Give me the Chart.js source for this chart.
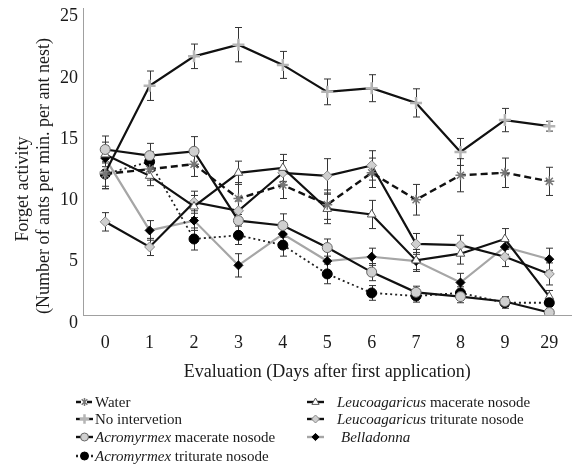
<!DOCTYPE html>
<html>
<head>
<meta charset="utf-8">
<script src="https://cdn.jsdelivr.net/npm/chart.js@4.4.0/dist/chart.umd.min.js"></script>
<style>
  html, body { margin: 0; padding: 0; background: #fff; }
  canvas { display: block; }
</style>
</head>
<body>
<canvas id="chart" width="580" height="464"></canvas>
<script>
// evaluation days
const days = ['0', '1', '2', '3', '4', '5', '6', '7', '8', '9', '29']
const yTicks = [0, 5, 10, 15, 20, 25]
const yTitle = ['Forget activity', '(Number of ants per min. per ant nest)']

// forage activity means and error (ants per min. per ant nest)
const water = [11.5, 11.9, 12.3, 9.5, 10.6, 9.0, 11.6, 9.4, 11.4, 11.6, 10.9]
const waterErr = [1.2, 0.9, 1.0, 1.3, 1.1, 1.2, 1.2, 1.25, 1.35, 1.2, 1.15]

const noIntervention = [11.6, 18.7, 21.1, 22.05, 20.4, 18.2, 18.5, 17.3, 13.3, 15.9, 15.4]
const noInterventionErr = [1.3, 1.2, 1.0, 1.4, 1.1, 1.05, 1.1, 1.15, 1.1, 0.95, 0.4]

const acroMacerate = [13.5, 13.0, 13.35, 7.7, 7.3, 5.5, 3.5, 1.85, 1.5, 1.1, 0.2]
const acroMacerateErr = [1.1, 1.0, 1.2, 0.9, 0.95, 0.7, 0.7, 0.5, 0.5, 0.4, 0.1]

const acroTriturate = [11.5, 12.5, 6.2, 6.5, 5.7, 3.35, 1.8, 1.55, 1.8, 1.0, 1.0]
const acroTriturateErr = [1.0, 0.8, 0.9, 0.75, 0.9, 0.8, 0.6, 0.5, 0.5, 0.45, 0.3]

const leucoMacerate = [13.1, 11.35, 8.85, 11.6, 12.0, 8.65, 8.2, 4.45, 5.0, 6.2, 1.5]
const leucoMacerateErr = [1.0, 0.8, 0.9, 0.95, 1.1, 1.2, 1.15, 0.9, 0.85, 0.85, 0.5]

const leucoTriturate = [7.6, 5.55, 9.2, 8.5, 11.6, 11.35, 12.2, 5.8, 5.7, 4.75, 3.35]
const leucoTriturateErr = [0.75, 0.7, 0.9, 0.8, 1.0, 1.4, 1.2, 0.85, 0.8, 0.8, 0.9]

const belladonna = [12.8, 6.9, 7.7, 4.05, 6.6, 4.4, 4.75, 4.4, 2.65, 5.55, 4.55]
const belladonnaErr = [1.0, 0.8, 0.8, 0.95, 0.8, 0.8, 0.7, 0.7, 0.75, 0.6, 0.9]

const SERIF = '"Liberation Serif", "DejaVu Serif", serif'

const series = [
  { key: 'water', data: water, err: waterErr, line: '#111', width: 2.4, dash: [7, 4],
    point: 'star', radius: 5, fill: '#888', stroke: '#777', pw: 1.5 },
  { key: 'noint', data: noIntervention, err: noInterventionErr, line: '#111', width: 2.2, dash: [],
    point: 'cross', radius: 6, fill: '#bbb', stroke: '#b5b5b5', pw: 2.5 },
  { key: 'acroMac', data: acroMacerate, err: acroMacerateErr, line: '#111', width: 2.2, dash: [],
    point: 'circle', radius: 5, fill: '#d0d0d0', stroke: '#666', pw: 1 },
  { key: 'acroTri', data: acroTriturate, err: acroTriturateErr, line: '#222', width: 1.8, dash: [2, 3],
    point: 'circle', radius: 5, fill: '#000', stroke: '#000', pw: 1 },
  { key: 'leucoMac', data: leucoMacerate, err: leucoMacerateErr, line: '#111', width: 2.2, dash: [],
    point: 'triangle', radius: 5, fill: '#fff', stroke: '#555', pw: 1 },
  { key: 'leucoTri', data: leucoTriturate, err: leucoTriturateErr, line: '#111', width: 2.2, dash: [],
    point: 'rectRot', radius: 5, fill: '#cfcfcf', stroke: '#888', pw: 1 },
  { key: 'bella', data: belladonna, err: belladonnaErr, line: '#a6a6a6', width: 2.2, dash: [],
    point: 'rectRot', radius: 4.5, fill: '#000', stroke: '#000', pw: 1 },
]

// legend entries: text parts [text, italic]
const legendItems = [
  { key: 'water', x: 76, y: 402, parts: [['Water', false]] },
  { key: 'noint', x: 76, y: 419, parts: [['No intervetion', false]] },
  { key: 'acroMac', x: 76, y: 437, parts: [['Acromyrmex', true], [' macerate nosode', false]] },
  { key: 'acroTri', x: 76, y: 456, parts: [['Acromyrmex', true], [' triturate nosode', false]] },
  { key: 'leucoMac', x: 307, y: 402, parts: [['Leucoagaricus', true], [' macerate nosode', false]] },
  { key: 'leucoTri', x: 307, y: 419, parts: [['Leucoagaricus', true], [' triturate nosode', false]] },
  { key: 'bella', x: 307, y: 437, parts: [['Belladonna', true]] },
]

function drawMarker(ctx, s, x, y, r) {
  ctx.save()
  ctx.setLineDash([])
  ctx.fillStyle = s.fill
  ctx.strokeStyle = s.stroke
  ctx.lineWidth = s.pw
  ctx.beginPath()
  if (s.point === 'circle') {
    ctx.arc(x, y, r, 0, Math.PI * 2)
    ctx.fill(); ctx.stroke()
  } else if (s.point === 'rectRot') {
    ctx.moveTo(x, y - r); ctx.lineTo(x + r, y); ctx.lineTo(x, y + r); ctx.lineTo(x - r, y); ctx.closePath()
    ctx.fill(); ctx.stroke()
  } else if (s.point === 'triangle') {
    ctx.moveTo(x, y - r); ctx.lineTo(x + r * 0.9, y + r * 0.6); ctx.lineTo(x - r * 0.9, y + r * 0.6); ctx.closePath()
    ctx.fill(); ctx.stroke()
  } else if (s.point === 'cross') {
    ctx.moveTo(x - r, y); ctx.lineTo(x + r, y); ctx.moveTo(x, y - r); ctx.lineTo(x, y + r)
    ctx.stroke()
  } else {
    const d = r * 0.7
    ctx.moveTo(x - d, y - d); ctx.lineTo(x + d, y + d); ctx.moveTo(x + d, y - d); ctx.lineTo(x - d, y + d)
    ctx.moveTo(x, y - r); ctx.lineTo(x, y + r)
    ctx.stroke()
  }
  ctx.restore()
}

const errorBars = {
  id: 'errorBars',
  beforeDatasetsDraw(chart) {
    const { ctx, scales: { x, y } } = chart
    ctx.save()
    ctx.strokeStyle = '#333'
    ctx.lineWidth = 1
    chart.data.datasets.forEach((ds) => {
      ds.errors.forEach((e, j) => {
        const px = Math.round(x.getPixelForValue(j)) + 0.5
        const top = y.getPixelForValue(ds.data[j] + e)
        const bot = y.getPixelForValue(Math.max(0, ds.data[j] - e))
        ctx.beginPath()
        ctx.moveTo(px, top); ctx.lineTo(px, bot)
        ctx.moveTo(px - 3.5, top); ctx.lineTo(px + 3.5, top)
        ctx.moveTo(px - 3.5, bot); ctx.lineTo(px + 3.5, bot)
        ctx.stroke()
      })
    })
    ctx.restore()
  },
}

// y title lines sit a little below the plot centre in the reference
const yTitlePlugin = {
  id: 'yTitle',
  afterDraw(chart) {
    const { ctx } = chart
    ctx.save()
    ctx.fillStyle = '#1a1a1a'
    ctx.font = `18px ${SERIF}`
    ctx.textAlign = 'center'
    ctx.textBaseline = 'middle'
    const spots = [[23, 189], [44, 176]]
    yTitle.forEach((text, i) => {
      ctx.save()
      ctx.translate(spots[i][0], spots[i][1])
      ctx.rotate(-Math.PI / 2)
      ctx.fillText(text, 0, 0)
      ctx.restore()
    })
    ctx.restore()
  },
}

const legendPlugin = {
  id: 'customLegend',
  afterDraw(chart) {
    const { ctx } = chart
    ctx.save()
    legendItems.forEach((item) => {
      const s = series.find((d) => d.key === item.key)
      ctx.strokeStyle = s.line
      ctx.lineWidth = 2.4
      ctx.setLineDash(s.dash.length ? (s.key === 'water' ? [5, 6] : [2, 3]) : [])
      ctx.beginPath()
      ctx.moveTo(item.x, item.y); ctx.lineTo(item.x + 17, item.y)
      ctx.stroke()
      drawMarker(ctx, s, item.x + 8.5, item.y, s.radius * 0.8)

      let tx = item.key.startsWith('leuco') ? item.x + 30 : item.x + (item.key === 'bella' ? 34 : 19)
      ctx.fillStyle = '#1a1a1a'
      ctx.textBaseline = 'middle'
      ctx.textAlign = 'left'
      item.parts.forEach(([text, italic]) => {
        ctx.font = `${italic ? 'italic ' : ''}15px ${SERIF}`
        ctx.fillText(text, tx, item.y + 1)
        tx += ctx.measureText(text).width
      })
    })
    ctx.restore()
  },
}

new Chart(document.getElementById('chart'), {
  type: 'line',
  data: {
    labels: days,
    datasets: series.map((s) => ({
      label: s.key,
      data: s.data,
      errors: s.err,
      borderColor: s.line,
      borderWidth: s.width,
      borderDash: s.dash,
      tension: 0,
      fill: false,
      pointStyle: s.point,
      pointRadius: s.radius,
      pointBackgroundColor: s.fill,
      pointBorderColor: s.stroke,
      pointBorderWidth: s.pw,
    })),
  },
  options: {
    responsive: false,
    animation: false,
    events: [],
    layout: { padding: { top: 7, right: 2, bottom: 81, left: 0 } },
    plugins: { legend: { display: false }, tooltip: { enabled: false } },
    scales: {
      x: {
        offset: true,
        afterFit: (scale) => { scale.height = 68 },
        grid: { display: false, drawTicks: false },
        border: { display: true, color: '#a0a0a0', width: 1 },
        ticks: { color: '#1a1a1a', padding: 17, font: { size: 18, family: SERIF } },
        title: {
          display: true,
          text: 'Evaluation (Days after first application)',
          color: '#1a1a1a',
          font: { size: 18, family: SERIF },
          padding: { top: 0, bottom: 0 },
        },
      },
      y: {
        min: 0,
        max: 25,
        afterBuildTicks: (scale) => { scale.ticks = yTicks.map((v) => ({ value: v })) },
        afterFit: (scale) => { scale.width = 83; scale.paddingTop = 0; scale.paddingBottom = 0 },
        grid: { display: false, drawTicks: false },
        border: { display: true, color: '#a0a0a0', width: 1 },
        ticks: { color: '#1a1a1a', padding: 5, labelOffset: 8, font: { size: 18, family: SERIF } },
        title: { display: false },
      },
    },
  },
  plugins: [errorBars, yTitlePlugin, legendPlugin],
})
</script>
</body>
</html>
